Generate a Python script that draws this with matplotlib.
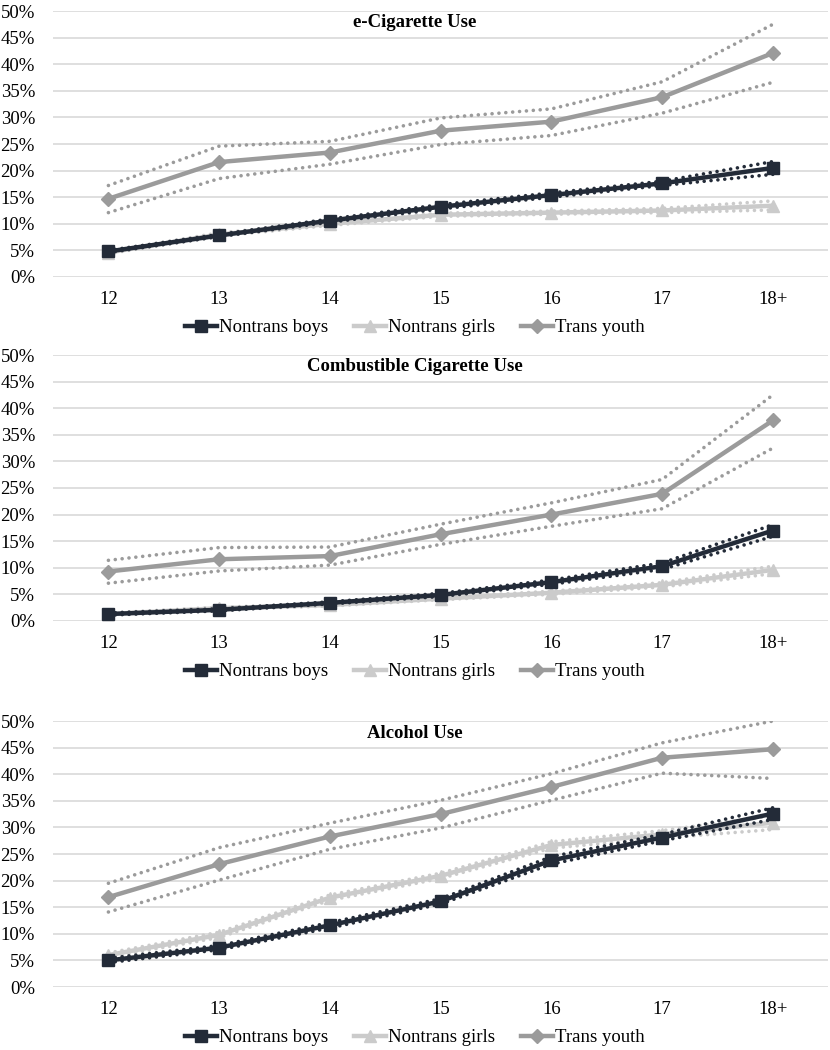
# Substance use by age: nontrans boys, nontrans girls and trans youth (with 95% CI)
import matplotlib
matplotlib.use("Agg")
import matplotlib.pyplot as plt
from matplotlib.ticker import FuncFormatter

ages = ["12", "13", "14", "15", "16", "17", "18+"]
groups = ["Nontrans boys", "Nontrans girls", "Trans youth"]
titles = ["e-Cigarette Use", "Combustible Cigarette Use", "Alcohol Use"]

# e-cigarette
ecig_boys = [4.8, 7.8, 10.6, 13.2, 15.4, 17.6, 20.5]
ecig_boys_hi = [5.0, 8.0, 10.9, 13.6, 15.8, 18.0, 21.7]
ecig_boys_lo = [4.6, 7.6, 10.3, 12.8, 15.0, 17.2, 19.3]
ecig_girls = [4.6, 8.0, 10.0, 11.7, 12.1, 12.5, 13.4]
ecig_girls_hi = [4.8, 8.3, 10.3, 12.0, 12.4, 12.9, 14.3]
ecig_girls_lo = [4.4, 7.7, 9.7, 11.4, 11.8, 12.1, 12.6]
ecig_trans = [14.7, 21.6, 23.4, 27.5, 29.2, 33.8, 42.1]
ecig_trans_hi = [17.2, 24.6, 25.5, 29.9, 31.6, 36.7, 47.5]
ecig_trans_lo = [12.1, 18.5, 21.2, 24.9, 26.6, 30.8, 36.6]

# combustible cigarette
cig_boys = [1.3, 2.1, 3.4, 4.9, 7.3, 10.3, 17.0]
cig_boys_hi = [1.5, 2.3, 3.6, 5.2, 7.7, 10.9, 18.1]
cig_boys_lo = [1.1, 1.9, 3.2, 4.6, 6.9, 9.7, 15.9]
cig_girls = [1.3, 2.4, 3.0, 4.2, 5.3, 6.8, 9.6]
cig_girls_hi = [1.5, 2.6, 3.2, 4.4, 5.6, 7.2, 10.3]
cig_girls_lo = [1.1, 2.2, 2.8, 4.0, 5.0, 6.4, 8.9]
cig_trans = [9.3, 11.6, 12.2, 16.3, 20.0, 23.9, 37.7]
cig_trans_hi = [11.4, 13.8, 13.9, 18.2, 22.2, 26.6, 42.5]
cig_trans_lo = [7.1, 9.4, 10.5, 14.4, 17.8, 21.1, 32.5]

# alcohol
alc_boys = [5.0, 7.4, 11.6, 16.1, 23.8, 28.1, 32.6]
alc_boys_hi = [5.4, 7.8, 12.1, 16.6, 24.5, 28.7, 33.7]
alc_boys_lo = [4.6, 7.0, 11.1, 15.6, 23.1, 27.5, 31.5]
alc_girls = [6.0, 9.8, 16.8, 20.9, 26.7, 28.7, 30.9]
alc_girls_hi = [6.4, 10.3, 17.3, 21.4, 27.3, 29.4, 32.2]
alc_girls_lo = [5.6, 9.3, 16.3, 20.4, 26.1, 28.0, 29.6]
alc_trans = [16.9, 23.1, 28.3, 32.5, 37.6, 43.1, 44.7]
alc_trans_hi = [19.5, 26.2, 30.8, 35.1, 40.1, 45.9, 50.0]
alc_trans_lo = [14.1, 20.1, 25.9, 29.9, 35.1, 40.2, 39.2]

panels = [
    [(ecig_boys, ecig_boys_lo, ecig_boys_hi),
     (ecig_girls, ecig_girls_lo, ecig_girls_hi),
     (ecig_trans, ecig_trans_lo, ecig_trans_hi)],
    [(cig_boys, cig_boys_lo, cig_boys_hi),
     (cig_girls, cig_girls_lo, cig_girls_hi),
     (cig_trans, cig_trans_lo, cig_trans_hi)],
    [(alc_boys, alc_boys_lo, alc_boys_hi),
     (alc_girls, alc_girls_lo, alc_girls_hi),
     (alc_trans, alc_trans_lo, alc_trans_hi)],
]

colors = ["#232B38", "#CBCBCB", "#9B9B9B"]
markers = ["s", "^", "D"]
msizes = [9, 9, 7]
zorders = [4, 3, 2]
dots = (0, (0.01, 1.9))

plt.rcParams["font.family"] = ["Liberation Serif", "DejaVu Serif"]

fig = plt.figure(figsize=(8.3, 10.5), dpi=100)
bottoms = [0.7362, 0.4086, 0.060]
x = list(range(len(ages)))

for p in range(3):
    ax = fig.add_axes([0.0639, bottoms[p], 0.934, 0.2533])
    for g in range(3):
        mid, lo, hi = panels[p][g]
        for ci in (hi, lo):
            ax.plot(x, ci, ls=dots, lw=2.6, color=colors[g],
                    dash_capstyle="round", zorder=zorders[g])
        ax.plot(x, mid, color=colors[g], lw=3.2, marker=markers[g],
                markersize=msizes[g], label=groups[g], zorder=zorders[g] + 0.5)

    ax.set_xlim(-0.5, 6.5)
    ax.set_ylim(0, 50)
    ax.set_yticks(range(0, 51, 5))
    ax.yaxis.set_major_formatter(FuncFormatter(lambda v, pos: "%d%%" % v))
    ax.set_xticks(x)
    ax.set_xticklabels(ages)
    ax.tick_params(axis="both", length=0, labelsize=13.5, colors="#000000")
    ax.tick_params(axis="x", pad=10)
    ax.tick_params(axis="y", pad=13)
    ax.grid(axis="y", color="#D9D9D9", lw=1.2, zorder=0)
    ax.set_axisbelow(True)
    for s in ax.spines.values():
        s.set_visible(False)

    ax.text(0.467, 0.955, titles[p], transform=ax.transAxes, ha="center",
            va="center", fontsize=13.5, fontweight="bold")

    ax.legend(loc="center", bbox_to_anchor=(0.467, -0.19), ncol=3,
              frameon=False, fontsize=13.5, handlelength=1.7,
              columnspacing=1.4, handletextpad=0.1)

fig.savefig("out.png", dpi=100)
